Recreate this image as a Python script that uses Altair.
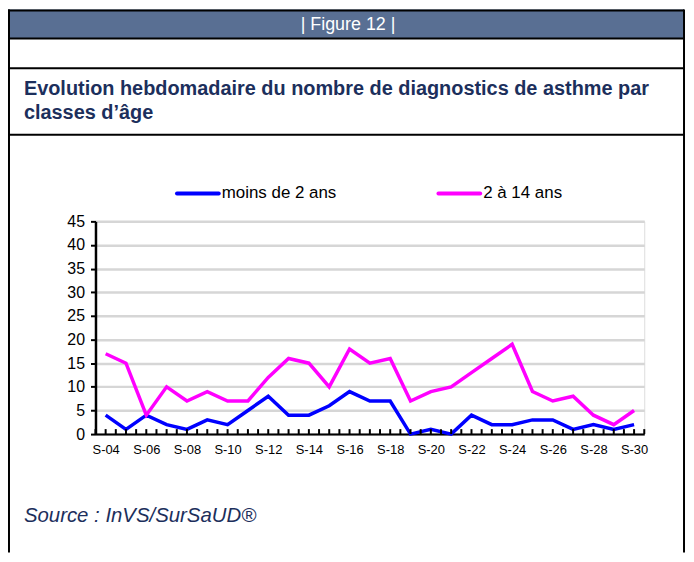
import altair as alt
import pandas as pd

weeks = [f"S-{i:02d}" for i in range(4, 31)]
moins_2_ans = [4, 1, 4, 2, 1, 3, 2, 5, 8, 4, 4, 6, 9, 7, 7, 0, 1, 0, 4, 2, 2, 3, 3, 1, 2, 1, 2]
de_2_a_14_ans = [17, 15, 4, 10, 7, 9, 7, 7, 12, 16, 15, 10, 18, 15, 16, 7, 9, 10, 13, 16, 19, 9, 7, 8, 4, 2, 5]
series_names = ["moins de 2 ans", "2 à 14 ans"]
series_colors = ["#0000ff", "#ff00ff"]
label_weeks = weeks[::2]
y_ticks = list(range(0, 50, 5))

header_text = "| Figure 12 |"
title_lines = ["Evolution hebdomadaire du nombre de diagnostics de asthme par", "classes d’âge"]
source_text = "Source : InVS/SurSaUD®"

W, H = 552, 214
STEP = W / len(weeks)
FONT = "Liberation Sans"
NAVY = "#1c2f5c"

rows = []
for name, vals in zip(series_names, [moins_2_ans, de_2_a_14_ans]):
    for w, v in zip(weeks, vals):
        rows.append({"week": w, "value": v, "series": name})
df = pd.DataFrame(rows)
wk = pd.DataFrame({"week": weeks})
one = pd.DataFrame({"a": [0]})

xscale = alt.Scale(type="point", padding=0.5, domain=weeks)
yscale = alt.Scale(domain=[0, 45])

lines = alt.Chart(df).mark_line(strokeWidth=3.5, clip=False).encode(
    x=alt.X("week:N", scale=xscale, sort=weeks,
            axis=alt.Axis(title=None, values=label_weeks, labelAngle=0, ticks=False,
                          domainColor="black", domainWidth=2, labelFont=FONT,
                          labelFontSize=13, labelColor="black", labelPadding=10, grid=False)),
    y=alt.Y("value:Q", scale=yscale,
            axis=alt.Axis(title=None, values=y_ticks, domainColor="black", domainWidth=2.5,
                          tickColor="black", tickWidth=2, tickSize=5, labelFont=FONT,
                          labelFontSize=16, labelColor="black", labelPadding=6,
                          grid=True, gridColor="#d6d6d6", gridWidth=2.5)),
    color=alt.Color("series:N", scale=alt.Scale(domain=series_names, range=series_colors), legend=None),
)

center_ticks = alt.Chart(wk).mark_rule(color="black", strokeWidth=2).encode(
    x=alt.X("week:N", scale=xscale, sort=weeks), y=alt.value(H - 5), y2=alt.value(H))
bound_ticks = alt.Chart(wk).mark_rule(color="black", strokeWidth=2, xOffset=-STEP / 2).encode(
    x=alt.X("week:N", scale=xscale, sort=weeks), y=alt.value(H - 5), y2=alt.value(H))
end_tick = alt.Chart(wk.tail(1)).mark_rule(color="black", strokeWidth=2, xOffset=STEP / 2).encode(
    x=alt.X("week:N", scale=xscale, sort=weeks), y=alt.value(H - 5), y2=alt.value(H))

L, R, T, B = -88, 592, -213, 333
header = alt.Chart(one).mark_rect(color="#596f93").encode(
    x=alt.value(L), x2=alt.value(R), y=alt.value(T), y2=alt.value(-184))
header_t = alt.Chart(one).mark_text(font=FONT, fontSize=18, color="white", align="center", baseline="middle").encode(
    x=alt.value(254), y=alt.value(-197), text=alt.value(header_text))

def hline(y):
    return alt.Chart(one).mark_rule(color="black", strokeWidth=2).encode(
        x=alt.value(L), x2=alt.value(R), y=alt.value(y))

def vline(x):
    return alt.Chart(one).mark_rule(color="black", strokeWidth=2).encode(
        x=alt.value(x), y=alt.value(T), y2=alt.value(B))

title_t = [alt.Chart(one).mark_text(font=FONT, fontSize=20, fontWeight="bold", color=NAVY,
                                    align="left", baseline="middle").encode(
    x=alt.value(-72), y=alt.value(yy), text=alt.value(t)) for t, yy in zip(title_lines, [-133, -109])]

source_t = alt.Chart(one).mark_text(font=FONT, fontSize=20.5, fontStyle="italic", color=NAVY,
                                    align="left", baseline="middle").encode(
    x=alt.value(-72), y=alt.value(296), text=alt.value(source_text))

leg = []
for name, col, x0 in zip(series_names, series_colors, [82, 345]):
    leg.append(alt.Chart(one).mark_rule(color=col, strokeWidth=4, strokeCap="round").encode(
        x=alt.value(x0), x2=alt.value(x0 + 42), y=alt.value(-28)))
    leg.append(alt.Chart(one).mark_text(font=FONT, fontSize=17, color="black", align="left",
                                        baseline="middle").encode(
        x=alt.value(x0 + 45), y=alt.value(-28), text=alt.value(name)))

chart = alt.layer(
    header, header_t, hline(T + 1), hline(-184), hline(-154), hline(-87),
    vline(L + 1), vline(R), *title_t, source_t, *leg,
    lines, center_ticks, bound_ticks, end_tick,
).properties(
    width=W, height=H,
    autosize=alt.AutoSizeParams(type="none"),
    padding={"left": 88, "top": 213, "right": 42, "bottom": 119},
).configure_view(stroke=None).configure(background="white")

chart.save("out.html", embed_options={"renderer": "svg", "actions": False})
